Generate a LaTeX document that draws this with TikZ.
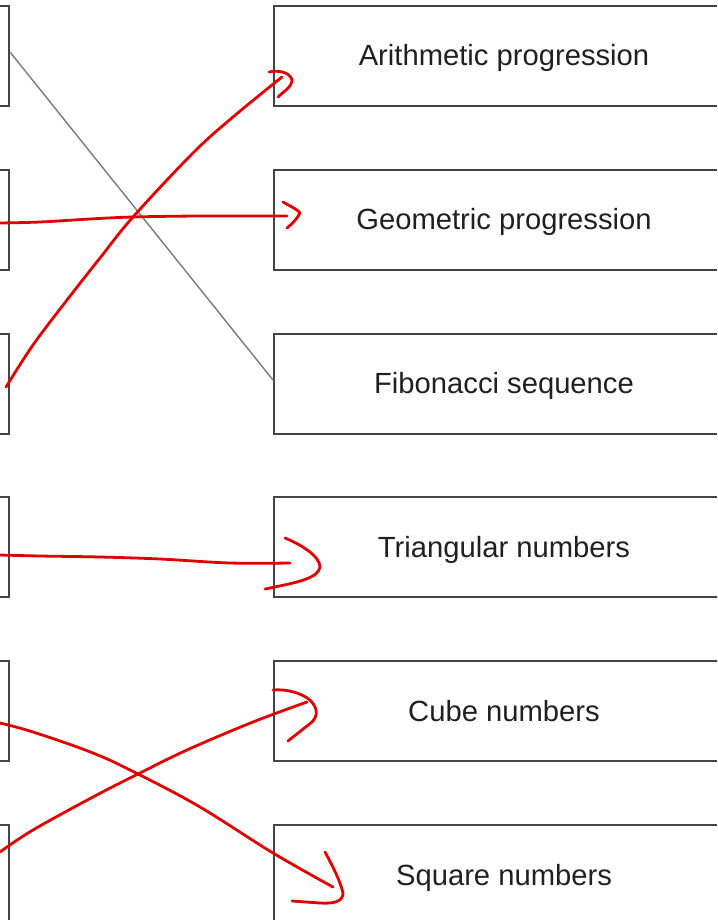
\documentclass[tikz,border=0pt]{standalone}
\usepackage{fontspec}
\setmainfont{Liberation Sans}
\usetikzlibrary{calc}
\definecolor{boxline}{HTML}{454545}
\definecolor{penred}{HTML}{E00000}
\definecolor{thinline}{HTML}{7A7A7A}
\definecolor{txt}{HTML}{202020}
\begin{document}
\begin{tikzpicture}[x=1pt,y=-1pt,
  rbox/.style={draw=boxline,line width=2pt,minimum width=460pt,minimum height=100pt,anchor=west,inner sep=0pt,
    font=\fontsize{29.2}{35}\selectfont,text=txt,text height=26pt,text depth=6pt},
  lbox/.style={draw=boxline,line width=2pt,minimum width=300pt,minimum height=100pt,anchor=east,inner sep=0pt},
  redpen/.style={draw=penred,line width=2.8pt,line cap=round,line join=round},
  grayline/.style={draw=thinline,line width=1.4pt}]
\useasboundingbox (0,0) rectangle (717,920);
\clip (0,0) rectangle (717,920);
% left boxes (cut by the left edge)
\node[lbox] (L1) at (10,56) {};
\node[lbox] (L2) at (10,219.8) {};
\node[lbox] (L3) at (10,383.6) {};
\node[lbox] (L4) at (10,547.4) {};
\node[lbox] (L5) at (10,711.2) {};
\node[lbox] (L6) at (10,875) {};
% right boxes
\node[rbox] (R1) at (273,56) {Arithmetic progression};
\node[rbox] (R2) at (273,219.8) {Geometric progression};
\node[rbox] (R3) at (273,383.6) {Fibonacci sequence};
\node[rbox] (R4) at (273,547.4) {Triangular numbers};
\node[rbox] (R5) at (273,711.2) {Cube numbers};
\node[rbox] (R6) at (273,875) {Square numbers};
% gray connector
\draw[grayline] ($(L1.east)+(0,-4)$) -- ($(R3.west)+(0,-3.6)$);
% end points
\coordinate (s2) at ($(L2.east)+(-10,3.2)$);
\coordinate (e2) at ($(R2.west)+(14,-3.8)$);
\coordinate (s3) at ($(L3.east)+(-4,3.4)$);
\coordinate (e3) at ($(R1.west)+(9,21)$);
\coordinate (s4) at ($(L4.east)+(-10,7.6)$);
\coordinate (e4) at ($(R4.west)+(17,15.6)$);
\coordinate (s5) at ($(L5.east)+(-10,11.8)$);
\coordinate (e5) at ($(R6.west)+(60,12)$);
\coordinate (s6) at ($(L6.east)+(-10,-23)$);
\coordinate (e6) at ($(R5.west)+(34,-9.2)$);
% red hand-drawn arrows
\draw[redpen] plot[smooth,tension=0.6] coordinates {(s2) (40,222) (90,219) (133,217) (200,216) (e2)};
\draw[redpen] (283,202) .. controls (292,207) and (298,210) .. (300,213) .. controls (297,219) and (292,224) .. (287,228);

\draw[redpen] plot[smooth,tension=0.6] coordinates {(s3) (33,345) (67,300) (100,258) (133,217) (193,153) (233,117) (e3)};
\draw[redpen] (269,72) .. controls (278,70) and (290,72) .. (292,80) .. controls (292,87) and (283,92) .. (278,97);

\draw[redpen] plot[smooth,tension=0.6] coordinates {(s4) (40,556) (100,557) (160,559) (230,563) (e4)};
\draw[redpen] (285,538) .. controls (300,544) and (320,556) .. (320,567) .. controls (318,578) and (300,582) .. (265,589);

\draw[redpen] plot[smooth,tension=0.6] coordinates {(s5) (33,732) (93,753) (138,774) (200,807) (273,853) (e5)};
\draw[redpen] (325,852) .. controls (332,865) and (340,880) .. (343,893) .. controls (343,901) and (335,904) .. (320,903) -- (292,901);

\draw[redpen] plot[smooth,tension=0.6] coordinates {(s6) (33,830) (93,797) (138,774) (187,750) (253,722) (e6)};
\draw[redpen] (273,690) .. controls (285,689) and (300,692) .. (310,700) .. controls (318,708) and (318,716) .. (312,722) -- (288,741);
\end{tikzpicture}
\end{document}
